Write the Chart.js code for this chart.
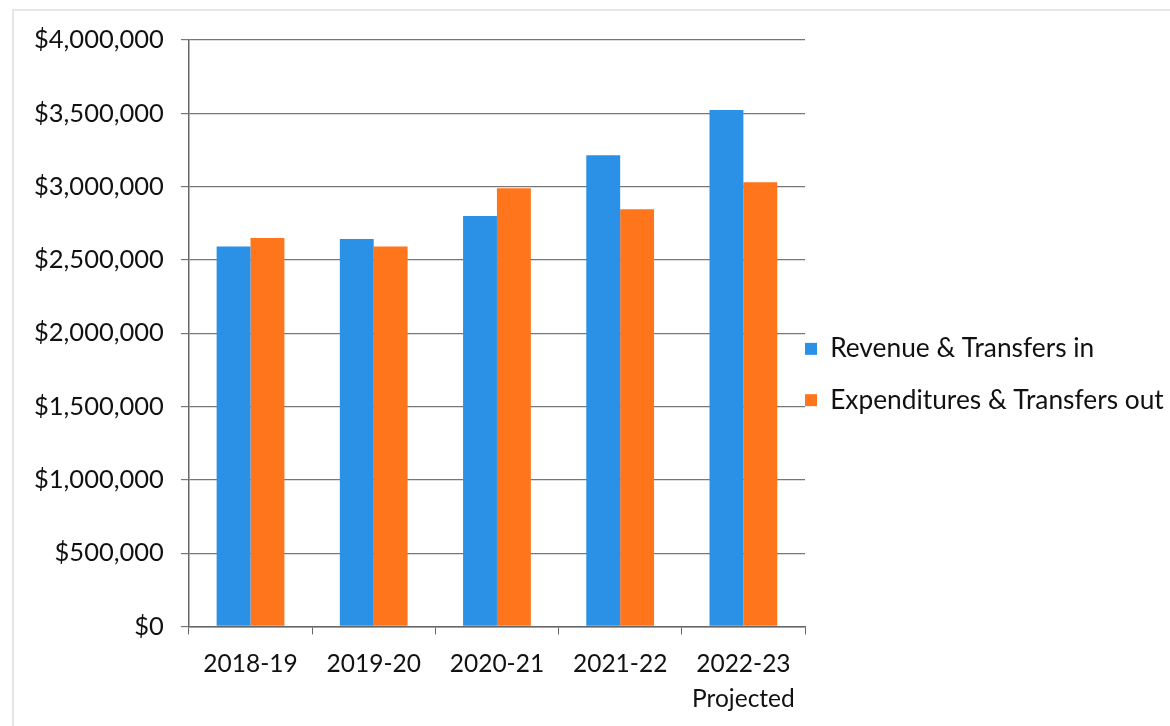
<!DOCTYPE html>
<html>
<head>
<meta charset="utf-8">
<script src="https://cdn.jsdelivr.net/npm/chart.js@4/dist/chart.umd.min.js"></script>
<style>
  html, body { margin: 0; padding: 0; background: #fff; }
  #wrap { width: 1170px; height: 726px; position: relative; }
  #frame {
    position: absolute; left: 12px; top: 9px; right: 0; bottom: 0;
    border-top: 2px solid #e6e6e6; border-left: 2px solid #e6e6e6;
    pointer-events: none;
  }
</style>
</head>
<body>
<div id="wrap">
  <canvas id="chart" width="1170" height="726"></canvas>
  <div id="frame"></div>
</div>
<script>
// Fund summary by fiscal year
const years = ["2018-19", "2019-20", "2020-21", "2021-22", ["2022-23", "Projected"]];
const revenueIn = [2592000, 2642000, 2799000, 3214000, 3523000];
const expendituresOut = [2649000, 2592000, 2988000, 2845000, 3030000];

const FONT = "Lato, 'Open Sans', sans-serif";

// pull the legend in tight against the plot area
const legendNudge = {
  id: "legendNudge",
  afterLayout(chart) {
    const lg = chart.legend;
    lg.left -= 25;
    lg.top -= 10; lg.bottom -= 10;
  }
};

const ctx = document.getElementById("chart").getContext("2d");
new Chart(ctx, {
  type: "bar",
  data: {
    labels: years,
    datasets: [
      {
        label: "Revenue & Transfers in",
        data: revenueIn,
        backgroundColor: "rgb(42, 145, 230)",
        categoryPercentage: 0.55,
        barPercentage: 1.0
      },
      {
        label: "Expenditures & Transfers out",
        data: expendituresOut,
        backgroundColor: "rgb(255, 117, 28)",
        categoryPercentage: 0.55,
        barPercentage: 1.0
      }
    ]
  },
  plugins: [legendNudge],
  options: {
    responsive: false,
    animation: false,
    layout: { padding: { top: 40, left: 17, right: 0, bottom: -3 } },
    plugins: {
      legend: {
        position: "right",
        maxWidth: 365,
        labels: {
          font: { family: FONT, size: 26.3 },
          color: "#111",
          boxWidth: 12,
          boxHeight: 12,
          padding: 25
        }
      },
      tooltip: { enabled: false }
    },
    scales: {
      x: {
        grid: {
          display: true,
          drawOnChartArea: false,
          offset: true,
          tickLength: 8,
          color: "#666"
        },
        border: { color: "#666", width: 1.5 },
        ticks: {
          font: { family: FONT, size: 24.5, lineHeight: 1.4 },
          color: "#111",
          padding: 13,
          maxRotation: 0
        }
      },
      y: {
        min: 0,
        max: 4000000,
        grid: {
          color: "#777",
          lineWidth: 1.2,
          tickLength: 8
        },
        border: { color: "#666", width: 1.5 },
        ticks: {
          stepSize: 500000,
          font: { family: FONT, size: 25.5 },
          color: "#111",
          padding: 17,
          callback: (v) => "$" + v.toLocaleString("en-US")
        }
      }
    }
  }
});
</script>
</body>
</html>
